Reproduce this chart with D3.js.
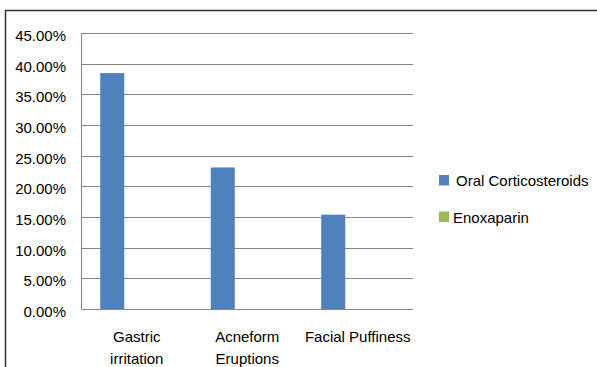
<!DOCTYPE html>
<html><head><meta charset="utf-8">
<script src="https://cdn.jsdelivr.net/npm/d3@7"></script>
<style>body{margin:0;background:#fff}svg{display:block}text{font-family:"Liberation Sans",Arial,sans-serif;fill:#000}</style>
</head><body>
<svg id="c" width="597" height="367"></svg>
<script>
const categories = [["Gastric","irritation"],["Acneform","Eruptions"],["Facial Puffiness"]];
const seriesNames = ["Oral Corticosteroids","Enoxaparin"];
const oralValues = [38.46, 23.08, 15.38];
const enoxValues = [0, 0, 0];
const yTicks = [0,5,10,15,20,25,30,35,40,45];
const colors = ["#4F81BD","#9BBB59"];

const svg = d3.select("#c");
svg.append("rect").attr("x",5.5).attr("y",10.5).attr("width",620).attr("height",400)
  .attr("fill","#fff").attr("stroke","#333").attr("stroke-width",1.5);

const L=81.5, R=413, T=33, B=309;
const x0 = d3.scaleBand().domain(d3.range(categories.length)).range([L,R]).padding(0);
const x1 = d3.scaleBand().domain(seriesNames).range([0,x0.bandwidth()]).paddingInner(0).paddingOuter(1.3).align(0.3);
const y = d3.scaleLinear().domain([0,45]).range([B,T]);

const g = svg.append("g");
g.selectAll("line.grid").data(yTicks).join("line")
  .attr("x1",L).attr("x2",R).attr("y1",d=>Math.round(y(d))+0.5).attr("y2",d=>Math.round(y(d))+0.5)
  .attr("stroke","#868686").attr("stroke-width",1);
g.append("line").attr("x1",L).attr("x2",L).attr("y1",T).attr("y2",B+0.5).attr("stroke","#868686");

g.selectAll("text.yl").data(yTicks).join("text")
  .attr("x",66).attr("y",d=>y(d)+8).attr("text-anchor","end").attr("font-size",15)
  .text(d=>d3.format(".2f")(d)+"%");

const data = [oralValues, enoxValues];
seriesNames.forEach((s,si)=>{
  g.selectAll("rect.s"+si).data(data[si]).join("rect")
    .attr("x",(d,i)=>x0(i)+x1(s)).attr("width",x1.bandwidth())
    .attr("y",d=>y(d)).attr("height",d=>y(0)-y(d)).attr("fill",colors[si]);
});

categories.forEach((lines,i)=>{
  const t = g.append("text").attr("text-anchor","middle").attr("font-size",15)
    .attr("x",x0(i)+x0.bandwidth()/2).attr("y",342);
  lines.forEach((ln,k)=>t.append("tspan").attr("x",x0(i)+x0.bandwidth()/2).attr("dy",k?22:0).text(ln));
});

const leg = svg.append("g");
seriesNames.forEach((s,i)=>{
  const yy = 175 + i*36.5;
  leg.append("rect").attr("x",439).attr("y",yy).attr("width",10).attr("height",10.5).attr("fill",colors[i]);
  leg.append("text").attr("x",i?453:456).attr("y",yy+11).attr("font-size",15).text(s);
});
</script>
</body></html>
